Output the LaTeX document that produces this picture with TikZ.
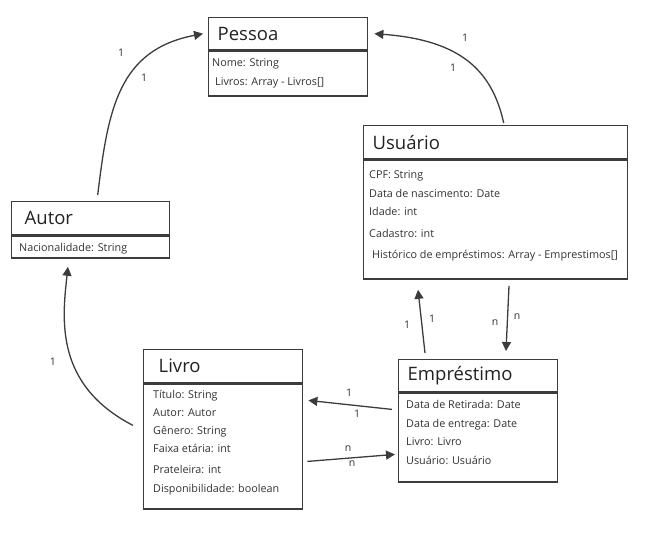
\documentclass[tikz,border=0pt]{standalone}
\usepackage{fontspec}
\setmainfont{Open Sans}
\usetikzlibrary{arrows.meta}
\definecolor{boxline}{RGB}{60,60,60}
\definecolor{boxtext}{RGB}{34,34,34}
\definecolor{attrtext}{RGB}{50,50,50}

\begin{document}
\begin{tikzpicture}[x=1pt,y=-1pt]
	\tikzset{
		classtitle/.style={draw=boxline,line width=1.4pt,anchor=north west,inner xsep=9pt,inner ysep=0pt,
			align=left,text=boxtext,font=\fontsize{18.5}{20}\selectfont},
		classbody/.style={draw=boxline,line width=1.4pt,anchor=north west,inner sep=0pt},
		attr/.style={anchor=north west,inner xsep=4pt,inner ysep=3pt,align=left,text=attrtext,
			font=\fontsize{10.8}{18.5}\selectfont},
		link/.style={draw=boxline,line width=1.3pt,-{Triangle[length=9pt,width=9pt]}},
		mult/.style={text=attrtext,font=\fontsize{10.5}{12}\selectfont,inner sep=0pt}}
	\useasboundingbox (0,0) rectangle (666,536);
	% classes
	\node[classtitle,minimum width=159,minimum height=32,text width=141] (pessoa) at (208,17) {Pessoa};
	\node[classbody,minimum width=159,minimum height=45] (pessoaBody) at (pessoa.south west) {};
	\node[attr] (pessoaAttr) at (pessoaBody.north west) {\strut Nome: String\\ \hspace*{3pt}Livros: Array - Livros[]};
	\node[classtitle,minimum width=158,minimum height=33,text width=140] (autor) at (11,201) {\hspace*{4pt}Autor};
	\node[classbody,minimum width=158,minimum height=22] (autorBody) at (autor.south west) {};
	\node[attr,xshift=4pt] (autorAttr) at (autorBody.north west) {\strut Nacionalidade: String};
	\node[classtitle,minimum width=264,minimum height=33,text width=246] (usuario) at (363,125) {Usuário};
	\node[classbody,minimum width=264,minimum height=119] (usuarioBody) at (usuario.south west) {};
	\node[attr,xshift=2pt,yshift=-3pt] (usuarioAttr) at (usuarioBody.north west) {\strut CPF: String\\ Data de nascimento: Date\\ Idade: int\\[3pt]
		Cadastro: int\\[3pt] \hspace*{3pt}Histórico de empréstimos: Array - Emprestimos[]};
	\node[classtitle,minimum width=159,minimum height=33,text width=141] (livro) at (143,349) {\hspace*{6pt}Livro};
	\node[classbody,minimum width=159,minimum height=125] (livroBody) at (livro.south west) {};
	\node[attr,xshift=6pt,yshift=1pt] (livroAttr) at (livroBody.north west) {\strut Título: String\\[-1pt] Autor: Autor\\ Gênero: String\\[-1pt]
		Faixa etária: int\\[3pt] Prateleira: int\\ Disponibilidade: boolean};
	\node[classtitle,minimum width=159,minimum height=32,text width=141] (emprestimo) at (398,359) {Empréstimo};
	\node[classbody,minimum width=159,minimum height=89] (emprestimoBody) at (emprestimo.south west) {};
	\node[attr,xshift=4pt] (emprestimoAttr) at (emprestimoBody.north west) {\strut Data de Retirada: Date\\ Data de entrega: Date\\
		Livro: Livro\\ Usuário: Usuário};
	% associations
	\draw[link] ([xshift=7pt,yshift=6pt]autor.north) .. controls (108,110) and (118,50) .. ([xshift=-5pt]pessoa.west);
	\draw[link] ([xshift=8pt,yshift=2pt]usuario.north) .. controls (492,70) and (460,40) .. ([xshift=6pt]pessoa.east);
	\draw[link] ([xshift=-10pt,yshift=-42pt]livroBody.north west) .. controls (55,385) and (62,320) .. ([xshift=57pt,yshift=-8pt]autorBody.south west);
	\draw[link] ([xshift=27pt,yshift=6pt]emprestimo.north west) -- ([xshift=55pt,yshift=-10pt]usuarioBody.south west);
	\draw[link] ([xshift=146pt,yshift=-6pt]usuarioBody.south west) -- ([xshift=108pt,yshift=8pt]emprestimo.north west);
	\draw[link] ([xshift=-6pt,yshift=-17pt]emprestimoBody.north west) -- ([xshift=5pt,yshift=-17pt]livroBody.north east);
	\draw[link] ([xshift=4pt,yshift=-78pt]livroBody.north east) -- ([xshift=-3pt,yshift=-62pt]emprestimoBody.north west);
	% multiplicities
	\foreach \x/\y/\t [count=\i] in {121/53/1,144/78/1,465/38/1,453/68/1,53/362/1,407/325/1,432/319/1,
		495/323/n,517/317/n,349/393/1,357/414/1,348/449/n,352/464/n}
		\node[mult] (m\i) at (\x,\y) {\t};
\end{tikzpicture}
\end{document}
